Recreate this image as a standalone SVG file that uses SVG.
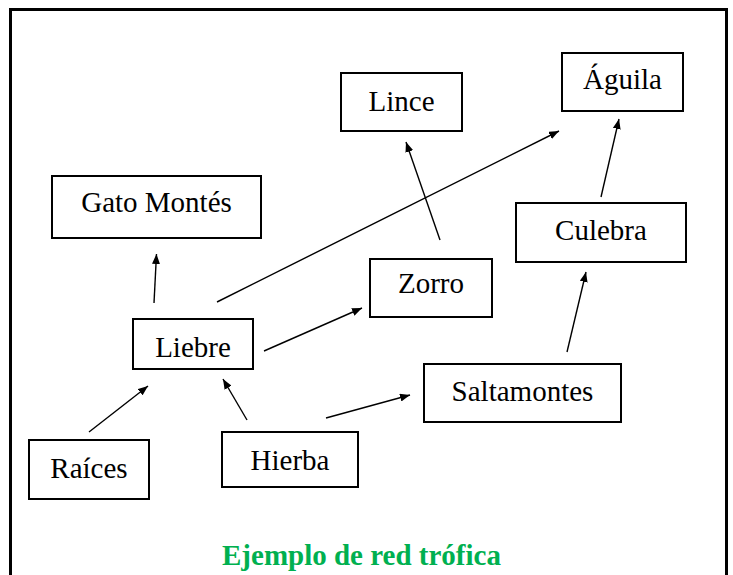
<svg xmlns="http://www.w3.org/2000/svg" width="733" height="575" viewBox="0 0 733 575">
<style>
.box{fill:#fff;stroke:#000;stroke-width:2}
.lbl{font-family:'Liberation Serif','Times New Roman',serif;font-size:29px;fill:#000;text-anchor:middle}
.edge{stroke:#000;stroke-width:1.4;fill:none;marker-end:url(#ah)}
.title{font-family:'Liberation Serif','Times New Roman',serif;font-size:29px;font-weight:bold;fill:#00B050;text-anchor:middle}
</style>
<defs>
<marker id="ah" markerUnits="userSpaceOnUse" markerWidth="11" markerHeight="8" refX="10" refY="4" orient="auto">
<path d="M0,0 L10,4 L0,8 z" fill="#000"/>
</marker>
</defs>
<rect x="0" y="0" width="733" height="575" fill="#fff"/>
<rect x="10.5" y="9.5" width="716" height="620" fill="none" stroke="#000" stroke-width="3"/>
<g id="connectors">
<line class="edge" x1="154" y1="303" x2="156.5" y2="254"/>
<line class="edge" x1="217" y1="302" x2="559" y2="131"/>
<line class="edge" x1="264" y1="351" x2="362" y2="308"/>
<line class="edge" x1="89" y1="432" x2="148" y2="386"/>
<line class="edge" x1="247" y1="420" x2="223" y2="379"/>
<line class="edge" x1="326" y1="418" x2="410" y2="395"/>
<line class="edge" x1="567" y1="352" x2="586" y2="272"/>
<line class="edge" x1="440" y1="240" x2="406" y2="142"/>
<line class="edge" x1="601" y1="197" x2="619" y2="119"/>
</g>
<g id="lince"><rect class="box" x="341" y="73" width="121" height="58"/><text class="lbl" x="401.5" y="111">Lince</text></g>
<g id="aguila"><rect class="box" x="562" y="53" width="121" height="58"/><text class="lbl" x="622.5" y="89">Águila</text></g>
<g id="gato"><rect class="box" x="52" y="176" width="209" height="62"/><text class="lbl" x="156.5" y="212">Gato Montés</text></g>
<g id="culebra"><rect class="box" x="516" y="203" width="170" height="59"/><text class="lbl" x="601" y="240">Culebra</text></g>
<g id="zorro"><rect class="box" x="370" y="259" width="122" height="58"/><text class="lbl" x="431" y="293">Zorro</text></g>
<g id="liebre"><rect class="box" x="133" y="319" width="120" height="50"/><text class="lbl" x="193" y="357">Liebre</text></g>
<g id="saltamontes"><rect class="box" x="424" y="364" width="197" height="58"/><text class="lbl" x="522.5" y="401">Saltamontes</text></g>
<g id="raices"><rect class="box" x="29" y="440" width="120" height="59"/><text class="lbl" x="89" y="478">Raíces</text></g>
<g id="hierba"><rect class="box" x="222" y="432" width="136" height="55"/><text class="lbl" x="290" y="470">Hierba</text></g>
<text class="title" x="361.5" y="565">Ejemplo de red trófica</text>
</svg>
